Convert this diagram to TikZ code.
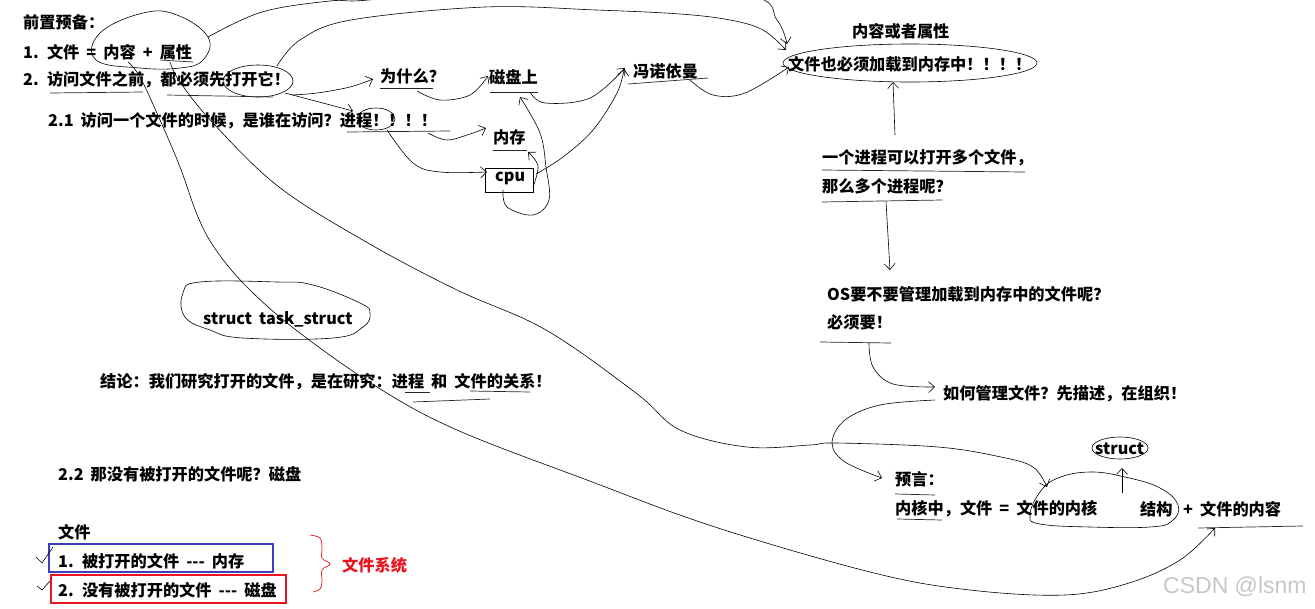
\documentclass[tikz,border=0pt]{standalone}
\usepackage{fontspec}
\setmainfont{Noto Sans CJK SC}[WordSpace=1.9]
\newfontfamily\wmfont{Liberation Sans}
\usetikzlibrary{arrows.meta}
\definecolor{redA}{HTML}{E8141E}
\definecolor{blueA}{HTML}{3B3BC8}
\tikzset{
  t/.style={anchor=west, inner sep=0pt, font=\bfseries\fontsize{16.2}{18}\selectfont},
  ink/.style={line width=0.6pt, black},
  arr/.style={ink, -{Straight Barb[length=6pt,width=11pt]}},
  ul/.style={line width=0.7pt, black!85},
}
\begin{document}
\begin{tikzpicture}[x=1pt,y=-1pt]
\useasboundingbox (0,0) rectangle (1315,608);
% ---------- texts ----------
\node[t] (pre) at (23,22) {前置预备：};
\node[t] (l1) at (23,52) {1. 文件 = 内容 + 属性};
\node[t] (l2) at (23,80) {2. 访问文件之前，都必须先打开它！};
\node[t] (l21) at (48,121) {2.1 访问一个文件的时候，是谁在访问？进程！！！！};
\node[t] (why) at (380,76) {为什么？};
\node[t] (disk) at (489,77) {磁盘上};
\node[t] (von) at (633,71) {冯诺依曼};
\node[t] (mem) at (493,137) {内存};
\node[t] (cpu) at (495,178) {cpu};
\node[t] (nrsx) at (852,31) {内容或者属性};
\node[t] (load) at (788,64) {文件也必须加载到内存中！！！！};
\node[t] (q1) at (822,158) {一个进程可以打开多个文件，};
\node[t] (q2) at (822,186) {那么多个进程呢？};
\node[t] (os1) at (827,294) {OS要不要管理加载到内存中的文件呢？};
\node[t] (os2) at (827,322) {必须要！};
\node[t] (how) at (943,394) {如何管理文件？先描述，在组织！};
\node[t] (st) at (1095,449) {struct};
\node[t] (yy) at (895,479) {预言：};
\node[t] (k1) at (895,509) {内核中，文件 = 文件的内核};
\node[t] (k2) at (1140,509) {结构};
\node[t] (k3) at (1183,509) {+ 文件的内容};
\node[t] (ts) at (203,319) {struct task\_struct};
\node[t] (concl) at (100,382) {结论：我们研究打开的文件，是在研究：进程 和 文件的关系！};
\node[t] (l22) at (58,474) {2.2 那没有被打开的文件呢？磁盘};
\node[t] (f) at (58,532) {文件};
\node[t] (f1) at (58,561) {1. 被打开的文件 {-}{-}{-} 内存};
\node[t] (f2) at (58,590) {2. 没有被打开的文件 {-}{-}{-} 磁盘};
\node[t, text=redA] (fs) at (342,565) {文件系统};
\node[anchor=west, inner sep=0pt, font=\wmfont\fontsize{23}{25}\selectfont, text=black!22] (wm) at (1163,587) {CSDN @lsnm};
% ---------- boxes ----------
\draw[blueA, line width=2.6pt] (49,544) rectangle (273,572);
\draw[redA, line width=2.6pt] (51,575) rectangle (286,603);
\draw[redA, line width=0.7pt] plot[smooth, tension=0.6] coordinates {(310,535) (320,538) (322,548) (322,558) (330,564) (322,570) (322,582) (320,589) (313,592)};
% check marks
\draw[ink] (36,557) -- (42,563) -- (53,547);
\draw[ink] (37,586) -- (42,590) -- (50,581);
% ---------- ellipses / loops ----------
\draw[ink] plot[smooth cycle, tension=0.7] coordinates {(96,60) (100,33) (143,13) (177,15) (208,37) (203,60) (180,68) (140,68)};
\draw[ink] (258,81) ellipse [x radius=35, y radius=16];
\draw[ink] (376,119) ellipse [x radius=19, y radius=11];
\draw[ink] (485,168) rectangle (533,192);
\draw[ink] (910,63) ellipse [x radius=127, y radius=19];
\draw[ink] plot[smooth cycle, tension=0.7] coordinates {(183,293) (200,282) (277,282) (313,285) (360,303) (370,313) (363,327) (333,338) (243,338) (210,330) (185,317)};
\draw[ink] plot[smooth cycle, tension=0.7] coordinates {(1030,515) (1040,492) (1058,478) (1090,472) (1125,477) (1160,488) (1178,505) (1172,521) (1150,527) (1090,527) (1040,524)};
\draw[ink] (1120,448) ellipse [x radius=28, y radius=11];
% ---------- underlines ----------
\draw[ul] (160,60) -- (193,62);
\draw[ul] (50,93) -- (143,92);
\draw[ul] (167,95) -- (273,97);
\draw[ul] (380,88) -- (433,88);
\draw[ul] (490,92) -- (538,92);
\draw[ul] (628,84) -- (708,78);
\draw[ul] (347,132) -- (450,131);
\draw[ul] (493,150) -- (527,150);
\draw[ul] (822,170) -- (1025,172);
\draw[ul] (822,202) -- (942,200);
\draw[ul] (820,342) -- (891,343);
\draw[ul] (405,392) -- (430,392);
\draw[ul] (470,391) -- (530,392);
\draw[ul] (413,402) -- (490,399);
\draw[ul] (895,494) -- (935,495);
\draw[ul] (897,519) -- (942,520);
\draw[ul] (1198,528) -- (1303,526);
% ---------- connectors ----------
% A: 内容+属性 -> 文件也必须加载
\draw[arr] plot[smooth, tension=0.6] coordinates {(208,37) (262,12) (330,1) (378,-1) (560,-25) (745,-6) (777,20) (787,44)};
% B: 打开它 -> 文件也必须加载
\draw[arr] plot[smooth, tension=0.6] coordinates {(277,66) (300,40) (351,20) (485,7) (596,10) (680,14) (730,20) (763,30) (786,50)};
% C: 打开它 -> 为什么
\draw[arr] plot[smooth, tension=0.6] coordinates {(292,95) (317,93) (350,87) (373,79)};
% D: 打开它 -> 进程
\draw[arr] (285,93) -- (353,111);
% E: 为什么 -> 磁盘上
\draw[arr] plot[smooth, tension=0.6] coordinates {(417,91) (440,100) (470,95) (488,76)};
% F: 磁盘上 -> 冯诺依曼
\draw[arr] plot[smooth, tension=0.6] coordinates {(530,92) (545,103) (590,98) (625,68)};
% M: 冯诺依曼 -> 文件也必须加载
\draw[arr] plot[smooth, tension=0.6] coordinates {(690,80) (713,95) (745,93) (789,67)};
% G: 进程 -> 内存
\draw[arr] plot[smooth, tension=0.6] coordinates {(428,133) (447,140) (470,134) (486,128)};
% H: 进程 -> cpu
\draw[arr] plot[smooth, tension=0.6] coordinates {(387,130) (413,163) (440,172) (487,172)};
% K: cpu -> 内存
\draw[arr] plot[smooth, tension=0.6] coordinates {(533,187) (538,166) (528,152)};
% I: cpu loop -> 磁盘上
\draw[arr] plot[smooth, tension=0.6] coordinates {(503,190) (507,207) (533,215) (549,200) (546,167) (540,133) (520,97)};
% J: cpu -> 冯诺依曼
\draw[arr] plot[smooth, tension=0.6] coordinates {(536,174) (563,157) (593,130) (617,93) (624,69)};
% 一个进程 -> 文件也必须加载
\draw[arr] (895,135) -- (893,82);
% 那么多个进程呢 -> OS
\draw[arr] (886,202) -- (890,270);
% N: 必须要 -> 如何管理
\draw[arr] plot[smooth, tension=0.6] coordinates {(869,343) (873,367) (893,384) (935,387)};
% O: 如何管理 -> 预言
\draw[arr] plot[smooth, tension=0.6] coordinates {(935,400) (880,405) (845,420) (832,443) (845,462) (882,478)};
% struct arrow
\draw[arr] (1122,493) -- (1122,468);
% L1: 内容 -> 文件的内容
\draw[arr] plot[smooth, tension=0.6] coordinates {(128,62) (140,77) (160,120) (180,167) (198,217) (216,250) (247,287) (296,330) (377,387) (457,430) (587,480) (715,527) (874,573) (970,590) (1065,595) (1129,583) (1180,560) (1215,528)};
% L2: 属性 -> 文件的内核结构
\draw[arr] plot[smooth, tension=0.6] coordinates {(170,62) (180,82) (213,123) (279,187) (368,243) (457,290) (546,330) (636,393) (680,430) (747,447) (810,445) (836,443) (938,447) (1001,457) (1033,467) (1047,487)};
\end{tikzpicture}
\end{document}
